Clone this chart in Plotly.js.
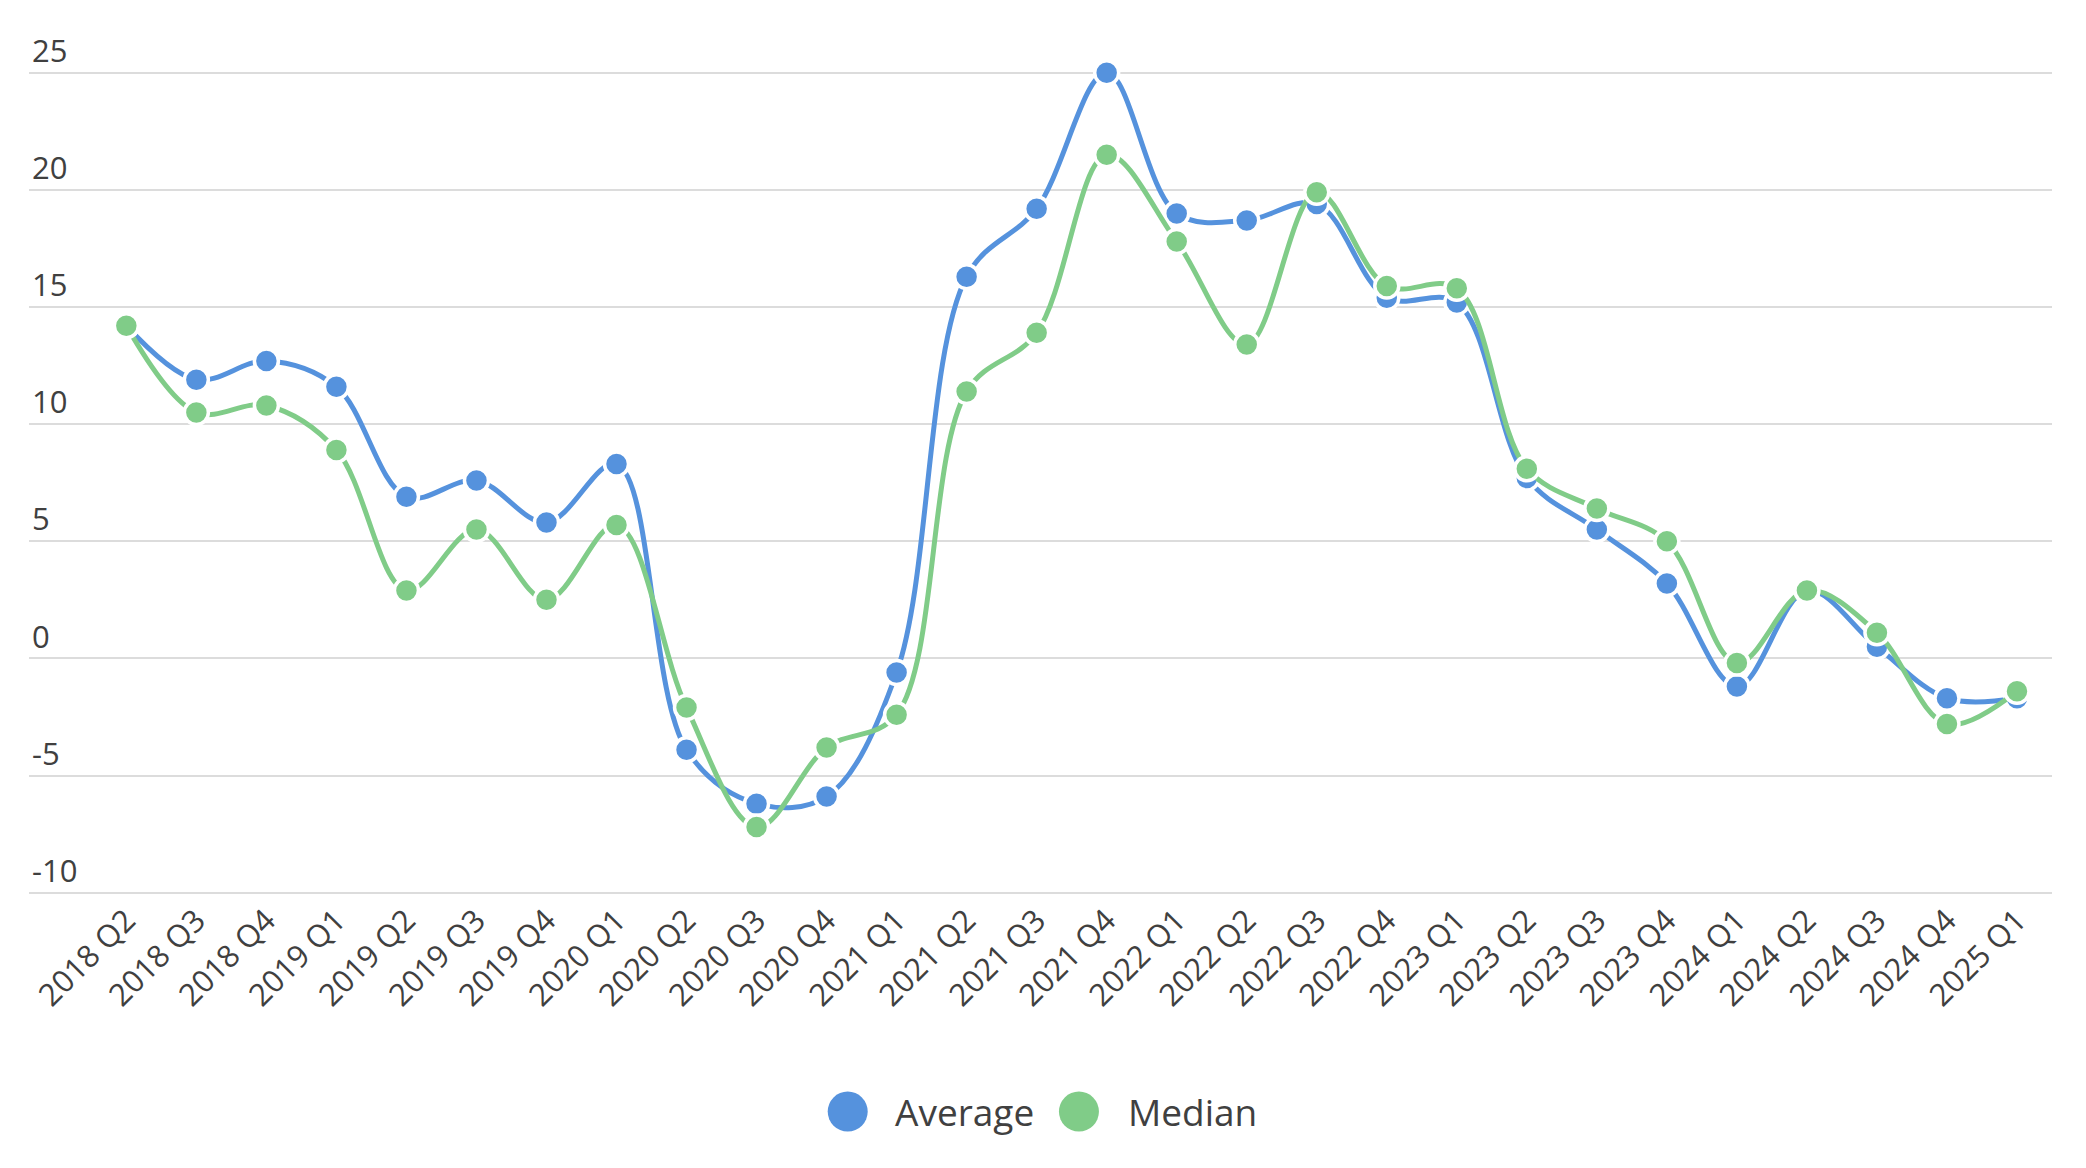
<!DOCTYPE html>
<html>
<head>
<meta charset="utf-8">
<script src="https://cdn.plot.ly/plotly-3.0.1.min.js"></script>
<style>
  html, body { margin: 0; padding: 0; background: #ffffff; }
  #chart { width: 2086px; height: 1168px; }
</style>
</head>
<body>
<div id="chart"></div>
<script>
const categories = [
  "2018 Q2", "2018 Q3", "2018 Q4",
  "2019 Q1", "2019 Q2", "2019 Q3", "2019 Q4",
  "2020 Q1", "2020 Q2", "2020 Q3", "2020 Q4",
  "2021 Q1", "2021 Q2", "2021 Q3", "2021 Q4",
  "2022 Q1", "2022 Q2", "2022 Q3", "2022 Q4",
  "2023 Q1", "2023 Q2", "2023 Q3", "2023 Q4",
  "2024 Q1", "2024 Q2", "2024 Q3", "2024 Q4",
  "2025 Q1"
];
const averageValues = [
  14.2, 11.9, 12.7,
  11.6, 6.9, 7.6, 5.8,
  8.3, -3.9, -6.2, -5.9,
  -0.6, 16.3, 19.2, 25.0,
  19.0, 18.7, 19.4, 15.4,
  15.2, 7.7, 5.5, 3.2,
  -1.2, 2.9, 0.5, -1.7,
  -1.7
];
const medianValues = [
  14.2, 10.5, 10.8,
  8.9, 2.9, 5.5, 2.5,
  5.7, -2.1, -7.2, -3.8,
  -2.4, 11.4, 13.9, 21.5,
  17.8, 13.4, 19.9, 15.9,
  15.8, 8.1, 6.4, 5.0,
  -0.2, 2.9, 1.1, -2.8,
  -1.4
];
const seriesNames = ["Average", "Median"];
const seriesColors = ["#5592dd", "#80cc88"];
const yTickValues = [-10, -5, 0, 5, 10, 15, 20, 25];
const yTickLabels = ["-10", "-5", "0", "5", "10", "15", "20", "25"];

const FONT = "'Open Sans', 'Noto Sans', sans-serif";
const TEXT_COLOR = "#404040";

function makeTrace(values, name, color) {
  return {
    type: "scatter",
    mode: "lines+markers",
    name: name,
    x: categories,
    y: values,
    line: { color: color, width: 5, shape: "spline", smoothing: 1 },
    marker: { color: color, size: 24, line: { color: "#ffffff", width: 3.5 } },
    showlegend: false,
    hoverinfo: "x+y+name"
  };
}

const data = [
  makeTrace(averageValues, seriesNames[0], seriesColors[0]),
  makeTrace(medianValues, seriesNames[1], seriesColors[1])
];

// custom legend (large circle symbols + text)
const legendY = -0.2492;
const legendSymbolX = [0.4047, 0.519];
const legendTextX = [0.4271, 0.5423];
const shapes = [];
const annotations = [];
for (let i = 0; i < seriesNames.length; i++) {
  shapes.push({
    type: "circle",
    xref: "paper", yref: "paper",
    xsizemode: "pixel", ysizemode: "pixel",
    xanchor: legendSymbolX[i], yanchor: legendY,
    x0: -20, x1: 20, y0: -20, y1: 20,
    fillcolor: seriesColors[i],
    line: { width: 0 }
  });
  annotations.push({
    xref: "paper", yref: "paper",
    x: legendTextX[i], y: legendY,
    xanchor: "left", yanchor: "middle",
    text: seriesNames[i],
    showarrow: false,
    font: { family: FONT, size: 37, color: TEXT_COLOR }
  });
}

const layout = {
  width: 2086,
  height: 1168,
  paper_bgcolor: "#ffffff",
  plot_bgcolor: "#ffffff",
  margin: { l: 29, r: 34, t: 25.8, b: 272.7, pad: 0 },
  font: { family: FONT, color: TEXT_COLOR, size: 31 },
  xaxis: {
    type: "category",
    range: [-1.39, 27.5],
    showgrid: false,
    zeroline: false,
    showline: false,
    ticks: "",
    tickangle: -45,
    tickfont: { family: FONT, size: 31, color: TEXT_COLOR },
    fixedrange: true
  },
  yaxis: {
    range: [-10.1, 27],
    tickvals: yTickValues,
    ticktext: yTickLabels,
    showgrid: true,
    gridcolor: "#dcdcdc",
    gridwidth: 2,
    zeroline: false,
    showline: false,
    ticks: "",
    ticklabelposition: "inside top",
    tickfont: { family: FONT, size: 31, color: TEXT_COLOR },
    fixedrange: true
  },
  shapes: shapes,
  annotations: annotations,
  hovermode: "closest"
};

Plotly.newPlot("chart", data, layout, { displayModeBar: false, staticPlot: false });
</script>
</body>
</html>
